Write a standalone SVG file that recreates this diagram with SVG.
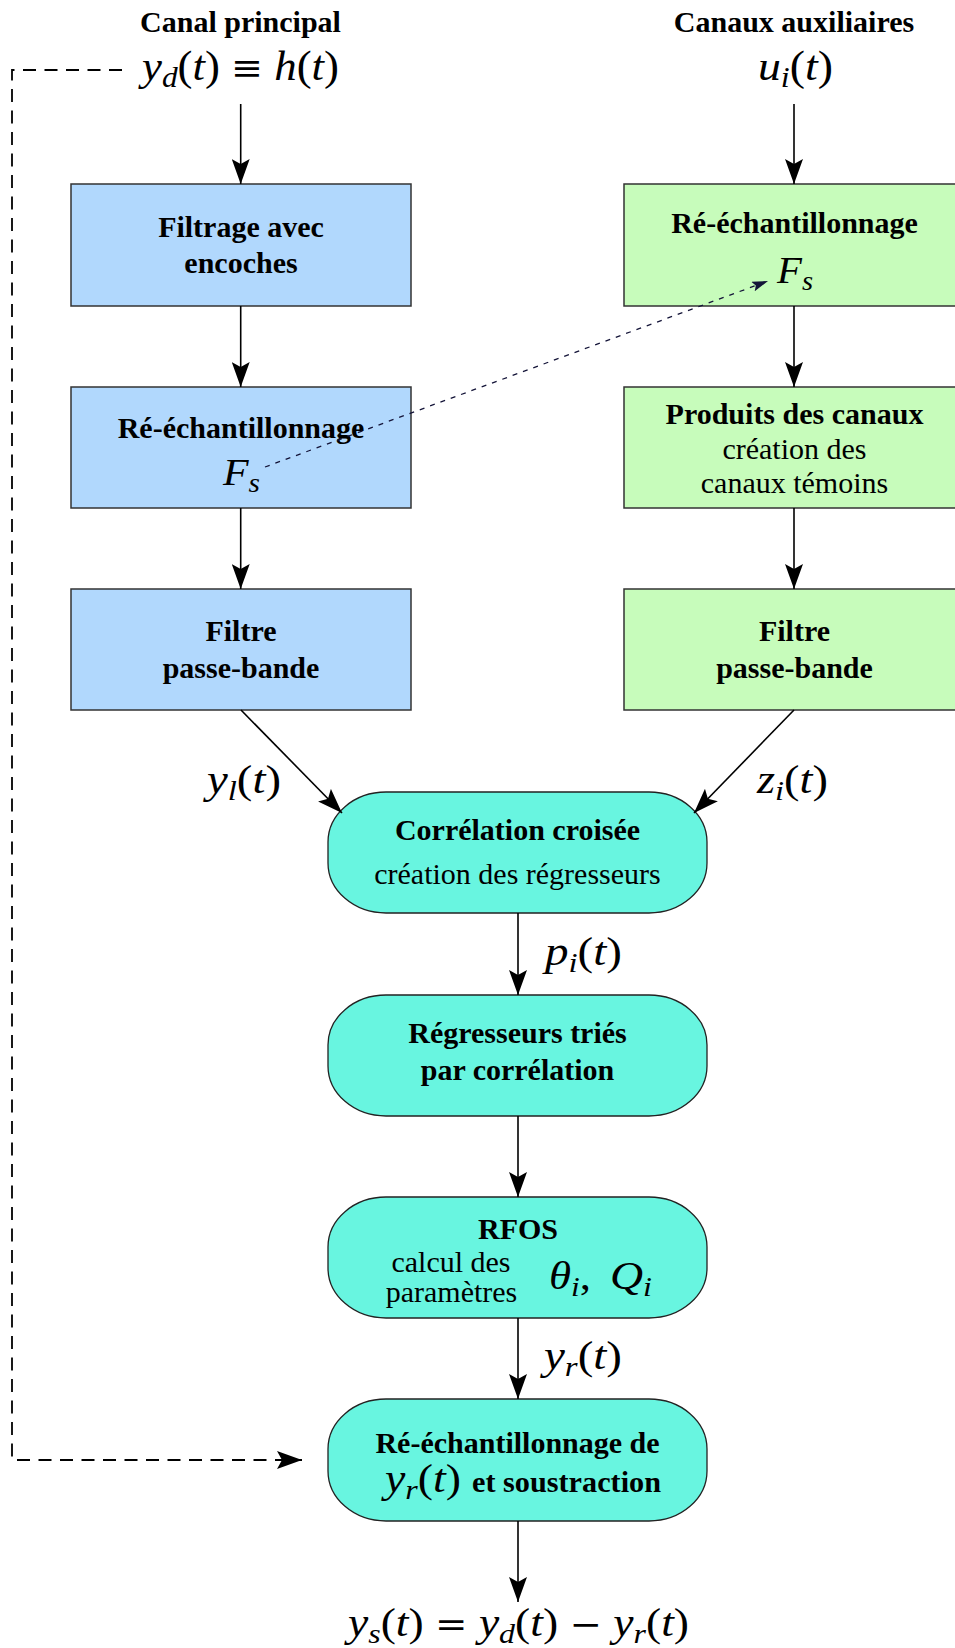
<svg xmlns="http://www.w3.org/2000/svg" width="955" height="1648" viewBox="0 0 955 1648">
<style>
.b{font-family:"Liberation Serif","Times New Roman",serif;font-weight:bold;font-size:30px;text-anchor:middle;fill:#000}
.r{font-family:"Liberation Serif","Times New Roman",serif;font-size:30px;text-anchor:middle;fill:#000}
.m{font-family:"Liberation Serif","Times New Roman",serif;fill:#000}
.i{font-style:italic}
.s{font-style:italic;font-size:70%}
.op{font-family:"DejaVu Serif",serif;font-size:85%}
.blue{fill:#b1d8fd;stroke:#333;stroke-width:1.5}
.green{fill:#c7fcbb;stroke:#333;stroke-width:1.5}
.cyan{fill:#68f5e0;stroke:#222;stroke-width:1.3}
.ln{fill:none;stroke:#000;stroke-width:1.6;marker-end:url(#ah)}
</style>
<defs>
<marker id="ah" markerUnits="userSpaceOnUse" viewBox="0 0 25 18" markerWidth="25" markerHeight="18" refX="25" refY="9" orient="auto">
<path d="M0,0 L25,9 L0,18 L5,9 Z" fill="#000"/>
</marker>
<marker id="ahs" markerUnits="userSpaceOnUse" viewBox="0 0 16 10" markerWidth="16" markerHeight="10" refX="16" refY="5" orient="auto">
<path d="M0,0 L16,5 L0,10 L3,5 Z" fill="#141438"/>
</marker>
</defs>

<g id="titles">
<text class="b" x="240.5" y="32">Canal principal</text>
<text class="b" x="794" y="32">Canaux auxiliaires</text>
<text class="m" x="142" y="80" font-size="42" textLength="197" lengthAdjust="spacingAndGlyphs"><tspan class="i">y</tspan><tspan class="s" dy="7">d</tspan><tspan dy="-7">(</tspan><tspan class="i">t</tspan><tspan>) </tspan><tspan class="op">≡</tspan><tspan> </tspan><tspan class="i">h</tspan><tspan>(</tspan><tspan class="i">t</tspan><tspan>)</tspan></text>
<text class="m" x="758" y="80" font-size="42" textLength="75" lengthAdjust="spacingAndGlyphs"><tspan class="i">u</tspan><tspan class="s" dy="7">i</tspan><tspan dy="-7">(</tspan><tspan class="i">t</tspan><tspan>)</tspan></text>
</g>

<g id="n-filtrage">
<rect class="blue" x="71" y="184" width="340" height="122"/>
<text class="b" x="241" y="237">Filtrage avec</text>
<text class="b" x="241" y="273">encoches</text>
</g>
<g id="n-reech-main">
<rect class="blue" x="71" y="387" width="340" height="121"/>
<text class="b" x="241" y="438">Ré-échantillonnage</text>
<text class="m" x="223" y="485" font-size="38" textLength="37" lengthAdjust="spacingAndGlyphs"><tspan class="i">F</tspan><tspan class="s" dy="7">s</tspan></text>
</g>
<g id="n-filtre-main">
<rect class="blue" x="71" y="589" width="340" height="121"/>
<text class="b" x="241" y="641">Filtre</text>
<text class="b" x="241" y="678">passe-bande</text>
</g>

<g id="n-reech-aux">
<rect class="green" x="624" y="184" width="340" height="122"/>
<text class="b" x="794.5" y="233">Ré-échantillonnage</text>
<text class="m" x="777" y="283" font-size="38" textLength="36" lengthAdjust="spacingAndGlyphs"><tspan class="i">F</tspan><tspan class="s" dy="7">s</tspan></text>
</g>
<g id="n-produits">
<rect class="green" x="624" y="387" width="340" height="121"/>
<text class="b" x="794.5" y="424">Produits des canaux</text>
<text class="r" x="794.5" y="459">création des</text>
<text class="r" x="794.5" y="493">canaux témoins</text>
</g>
<g id="n-filtre-aux">
<rect class="green" x="624" y="589" width="340" height="121"/>
<text class="b" x="794.5" y="641">Filtre</text>
<text class="b" x="794.5" y="678">passe-bande</text>
</g>

<g id="n-correlation">
<rect class="cyan" x="328" y="792" width="379" height="121" rx="58" ry="50"/>
<text class="b" x="517.5" y="840">Corrélation croisée</text>
<text class="r" x="517.5" y="884">création des régresseurs</text>
</g>
<g id="n-tries">
<rect class="cyan" x="328" y="995" width="379" height="121" rx="58" ry="50"/>
<text class="b" x="517.5" y="1043">Régresseurs triés</text>
<text class="b" x="517.5" y="1080">par corrélation</text>
</g>
<g id="n-rfos">
<rect class="cyan" x="328" y="1197" width="379" height="121" rx="58" ry="50"/>
<text class="b" x="518" y="1239">RFOS</text>
<text class="r" x="451" y="1272">calcul des</text>
<text class="r" x="451.5" y="1302">paramètres</text>
<text class="m" x="549" y="1289" font-size="40" textLength="42" lengthAdjust="spacingAndGlyphs"><tspan class="i">θ</tspan><tspan class="s" dy="7">i</tspan><tspan dy="-7">,</tspan></text>
<text class="m" x="610" y="1289" font-size="40" textLength="42" lengthAdjust="spacingAndGlyphs"><tspan class="i">Q</tspan><tspan class="s" dy="7">i</tspan></text>
</g>
<g id="n-soustraction">
<rect class="cyan" x="328" y="1399" width="379" height="122" rx="58" ry="50"/>
<text class="b" x="517.5" y="1453">Ré-échantillonnage de</text>
<text class="m" x="385" y="1492" font-size="40" textLength="76" lengthAdjust="spacingAndGlyphs"><tspan class="i">y</tspan><tspan class="s" dy="7">r</tspan><tspan dy="-7">(</tspan><tspan class="i">t</tspan><tspan>)</tspan></text>
<text class="b" x="472" y="1492" style="text-anchor:start" textLength="189" lengthAdjust="spacingAndGlyphs">et soustraction</text>
</g>

<g id="connectors">
<line class="ln" x1="240.7" y1="104" x2="240.7" y2="184"/>
<line class="ln" x1="794" y1="104" x2="794" y2="184"/>
<line class="ln" x1="240.7" y1="306" x2="240.7" y2="387"/>
<line class="ln" x1="794" y1="306" x2="794" y2="387"/>
<line class="ln" x1="240.7" y1="508" x2="240.7" y2="589"/>
<line class="ln" x1="794" y1="508" x2="794" y2="589"/>
<line class="ln" x1="241" y1="710" x2="342" y2="813"/>
<line class="ln" x1="794" y1="710" x2="694" y2="813"/>
<line class="ln" x1="518" y1="913" x2="518" y2="995"/>
<line class="ln" x1="518" y1="1116" x2="518" y2="1197"/>
<line class="ln" x1="518" y1="1318" x2="518" y2="1399"/>
<line class="ln" x1="518" y1="1521" x2="518" y2="1602"/>
<path d="M122,70 H12 V1460 H302" fill="none" stroke="#000" stroke-width="1.8" stroke-dasharray="13 8.5" marker-end="url(#ah)"/>
<line x1="265" y1="467" x2="768" y2="281" stroke="#141438" stroke-width="1.3" stroke-dasharray="5 6" marker-end="url(#ahs)"/>
</g>

<g id="edge-labels">
<text class="m" x="207" y="793" font-size="40" textLength="74" lengthAdjust="spacingAndGlyphs"><tspan class="i">y</tspan><tspan class="s" dy="7">l</tspan><tspan dy="-7">(</tspan><tspan class="i">t</tspan><tspan>)</tspan></text>
<text class="m" x="757" y="793" font-size="40" textLength="71" lengthAdjust="spacingAndGlyphs"><tspan class="i">z</tspan><tspan class="s" dy="7">i</tspan><tspan dy="-7">(</tspan><tspan class="i">t</tspan><tspan>)</tspan></text>
<text class="m" x="545" y="965" font-size="40" textLength="77" lengthAdjust="spacingAndGlyphs"><tspan class="i">p</tspan><tspan class="s" dy="7">i</tspan><tspan dy="-7">(</tspan><tspan class="i">t</tspan><tspan>)</tspan></text>
<text class="m" x="544" y="1369" font-size="40" textLength="78" lengthAdjust="spacingAndGlyphs"><tspan class="i">y</tspan><tspan class="s" dy="7">r</tspan><tspan dy="-7">(</tspan><tspan class="i">t</tspan><tspan>)</tspan></text>
<text class="m" x="348" y="1636" font-size="40" textLength="341" lengthAdjust="spacingAndGlyphs"><tspan class="i">y</tspan><tspan class="s" dy="7">s</tspan><tspan dy="-7">(</tspan><tspan class="i">t</tspan><tspan>) </tspan><tspan class="op">=</tspan><tspan> </tspan><tspan class="i">y</tspan><tspan class="s" dy="7">d</tspan><tspan dy="-7">(</tspan><tspan class="i">t</tspan><tspan>) </tspan><tspan class="op">−</tspan><tspan> </tspan><tspan class="i">y</tspan><tspan class="s" dy="7">r</tspan><tspan dy="-7">(</tspan><tspan class="i">t</tspan><tspan>)</tspan></text>
</g>
</svg>
